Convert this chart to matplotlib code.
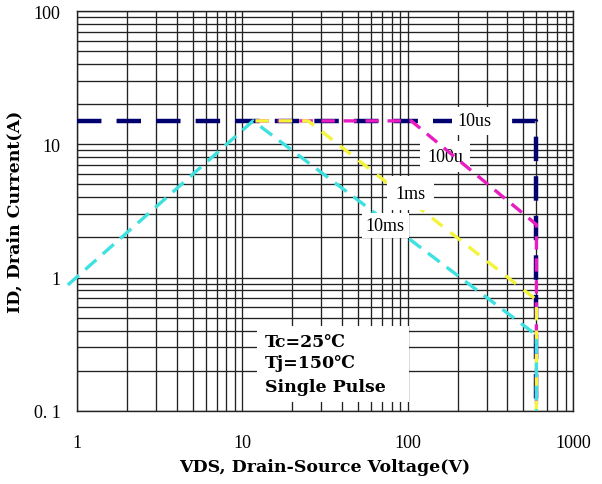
"""Safe operating area chart (log-log)."""
import matplotlib
matplotlib.use("Agg")
import matplotlib.pyplot as plt
from matplotlib.patches import Rectangle

# corner points of each SOA boundary
v_10us = [1, 600, 600]
i_10us = [15, 15, 0.1]
v_100us = [12, 105, 600, 600]
i_100us = [15, 15, 2.5, 0.1]
v_1ms = [12, 25, 600, 600]
i_1ms = [15, 15, 0.68, 0.1]
v_10ms = [0.88, 11.6, 600, 600]
i_10ms = [0.88, 15, 0.37, 0.1]

x_ticks = [1, 10, 100, 1000]
x_ticklabels = ["1", "10", "100", "1000"]
y_ticks = [0.1, 1, 10, 100]
y_ticklabels = ["0. 1", "1", "10", "100"]

SERIF = ["Liberation Serif", "DejaVu Serif", "DejaVu Sans"]
BOLD = ["DejaVu Serif", "DejaVu Sans"]

fig = plt.figure(figsize=(6.02, 4.85), dpi=100)
ax = fig.add_axes([0.128, 0.151, 0.824, 0.824])
ax.set_xscale("log")
ax.set_yscale("log")
ax.set_xlim(1, 1000)
ax.set_ylim(0.1, 100)
ax.set_axisbelow(True)
ax.grid(True, which="both", color="#222222", linewidth=0.95)
for s in ax.spines.values():
    s.set_color("#222222")
    s.set_linewidth(1.0)

ax.set_xticks(x_ticks)
ax.set_xticklabels(x_ticklabels, family=SERIF, fontsize=13)
ax.set_yticks(y_ticks)
ax.set_yticklabels(y_ticklabels, family=SERIF, fontsize=13)
ax.tick_params(which="both", length=0)
ax.tick_params(axis="x", pad=17)
ax.tick_params(axis="y", pad=12)

# white area behind the conditions note
ax.add_patch(Rectangle((12.3, 0.117), 102 - 12.3, 0.43 - 0.117,
                       facecolor="white", edgecolor="none", zorder=1))

ax.plot(v_10us, i_10us, color="#00006e", linewidth=3.2,
        dashes=(5.5, 3.4), zorder=3)
ax.plot(v_100us, i_100us, color="#e81cc0", linewidth=2.4,
        dashes=(4.0, 2.6), zorder=3)
ax.plot(v_1ms, i_1ms, color="#f4f43a", linewidth=2.4,
        dashes=(4.0, 3.0), zorder=3)
ax.plot(v_10ms, i_10ms, color="#3ee0e0", linewidth=2.4,
        dashes=(4.4, 2.6), zorder=3, clip_on=False)

ax.text(254, 15, "10us", family=SERIF, fontsize=13, ha="center", va="center",
        bbox=dict(facecolor="white", edgecolor="none", pad=4), zorder=4)
ax.text(168, 8.1, "100u", family=SERIF, fontsize=13, ha="center", va="center",
        bbox=dict(facecolor="white", edgecolor="none", pad=5), zorder=2)
ax.text(104, 4.3, "1ms", family=SERIF, fontsize=13, ha="center", va="center",
        bbox=dict(facecolor="white", edgecolor="none", pad=6), zorder=4)
ax.text(73, 2.46, "10ms", family=SERIF, fontsize=13, ha="center", va="center",
        bbox=dict(facecolor="white", edgecolor="none", pad=3), zorder=4)

ax.text(13.7, 0.33, "Tc=25℃", family=BOLD, fontsize=12.5, fontweight="bold",
        va="center", zorder=4)
ax.text(13.7, 0.23, "Tj=150℃", family=BOLD, fontsize=12.5, fontweight="bold",
        va="center", zorder=4)
ax.text(13.7, 0.151, "Single Pulse", family=BOLD, fontsize=12.5,
        fontweight="bold", va="center", zorder=4)

ax.set_xlabel("VDS, Drain-Source Voltage(V)", family=BOLD, fontsize=12.5,
              fontweight="bold", labelpad=5)
ax.set_ylabel("ID, Drain Current(A)", family=BOLD, fontsize=12.5,
              fontweight="bold", labelpad=7)

fig.savefig("out.png", dpi=100, facecolor="white")
